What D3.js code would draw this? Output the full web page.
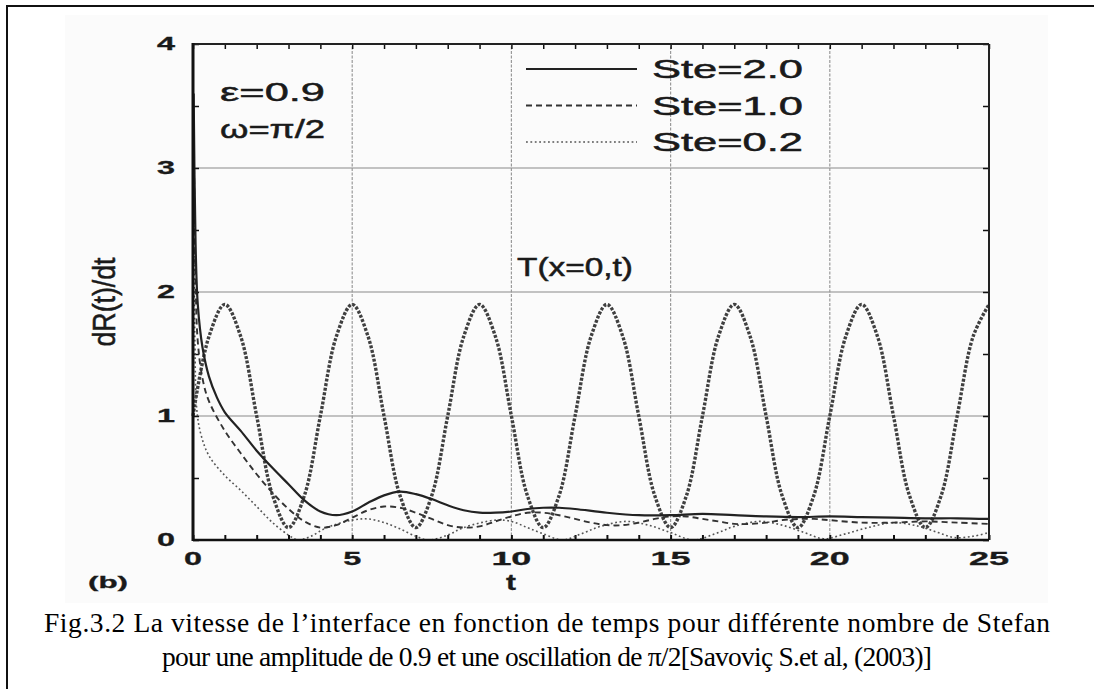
<!DOCTYPE html>
<html>
<head>
<meta charset="utf-8">
<script src="https://cdn.jsdelivr.net/npm/d3@7"></script>
<style>
  html, body { margin: 0; padding: 0; background: #fff; }
  svg { display: block; }
</style>
</head>
<body>
<svg id="chart" width="1094" height="689"></svg>
<script>
// ---------------- data ----------------
const xTicks = [0, 5, 10, 15, 20, 25];
const yTicks = [0, 1, 2, 3, 4];
const seriesNames = ["Ste=2.0", "Ste=1.0", "Ste=0.2"];

// boundary temperature T(x=0,t), sampled every 0.5 in t
const tempT = d3.range(0, 25.01, 0.5);
const tempV = [1.0, 1.64, 1.9, 1.64, 1.0, 0.36, 0.1, 0.36,
               1.0, 1.64, 1.9, 1.64, 1.0, 0.36, 0.1, 0.36,
               1.0, 1.64, 1.9, 1.64, 1.0, 0.36, 0.1, 0.36,
               1.0, 1.64, 1.9, 1.64, 1.0, 0.36, 0.1, 0.36,
               1.0, 1.64, 1.9, 1.64, 1.0, 0.36, 0.1, 0.36,
               1.0, 1.64, 1.9, 1.64, 1.0, 0.36, 0.1, 0.36,
               1.0, 1.64, 1.9];

const ste20T = [0.02, 0.08, 0.15, 0.3, 0.5, 0.75, 1, 1.5, 2, 2.5, 3, 3.5, 4, 4.5, 5, 5.5, 6, 6.5, 7, 7.5, 8, 8.5, 9, 9.5, 10, 10.5, 11, 11.5, 12, 13, 14, 15, 16, 17, 18, 19, 20, 21, 22, 23, 24, 25];
const ste20V = [3.6, 2.4, 1.9, 1.55, 1.32, 1.15, 1.03, 0.88, 0.72, 0.58, 0.45, 0.32, 0.23, 0.2, 0.23, 0.3, 0.36, 0.39, 0.37, 0.33, 0.28, 0.24, 0.22, 0.22, 0.23, 0.25, 0.26, 0.26, 0.25, 0.22, 0.2, 0.2, 0.21, 0.2, 0.19, 0.185, 0.19, 0.185, 0.18, 0.175, 0.175, 0.17];

const ste10T = [0.02, 0.08, 0.15, 0.3, 0.5, 1, 1.5, 2, 2.5, 3, 3.5, 4, 4.5, 5, 5.5, 6, 6.5, 7, 7.5, 8, 8.5, 9, 9.5, 10, 10.5, 11, 11.5, 12, 12.5, 13, 13.5, 14, 14.5, 15, 15.5, 16, 16.5, 17, 17.5, 18, 18.5, 19, 19.5, 20, 21, 22, 23, 24, 25];
const ste10V = [3.4, 2.1, 1.6, 1.3, 1.12, 0.88, 0.7, 0.53, 0.38, 0.25, 0.15, 0.1, 0.12, 0.18, 0.24, 0.27, 0.26, 0.22, 0.17, 0.12, 0.1, 0.11, 0.15, 0.19, 0.22, 0.22, 0.2, 0.17, 0.14, 0.12, 0.12, 0.14, 0.17, 0.19, 0.19, 0.17, 0.15, 0.13, 0.13, 0.14, 0.16, 0.17, 0.17, 0.16, 0.14, 0.14, 0.15, 0.14, 0.13];

const ste02T = [0.02, 0.06, 0.12, 0.25, 0.5, 1, 1.5, 2, 2.5, 3, 3.3, 3.7, 4.2, 5, 5.5, 6, 6.5, 7, 7.4, 8, 8.5, 9.5, 10, 10.5, 11, 11.6, 12.2, 12.8, 13.6, 14.3, 15, 15.7, 16.4, 17, 17.8, 18.5, 19.2, 19.8, 20.5, 21.2, 22, 22.8, 23.4, 23.9, 24.5, 25];
const ste02V = [3.0, 1.6, 1.05, 0.85, 0.68, 0.52, 0.4, 0.27, 0.14, 0.04, 0.0, 0.03, 0.1, 0.16, 0.17, 0.14, 0.09, 0.03, 0.0, 0.04, 0.1, 0.16, 0.15, 0.1, 0.05, 0.0, 0.05, 0.11, 0.15, 0.12, 0.06, 0.0, 0.05, 0.11, 0.15, 0.12, 0.06, 0.01, 0.05, 0.1, 0.14, 0.11, 0.06, 0.02, 0.03, 0.06];

// ---------------- drawing ----------------
const svg = d3.select("#chart");
const x = d3.scaleLinear().domain([0, 25]).range([193, 989]);
const y = d3.scaleLinear().domain([0, 4]).range([540, 44]);

// page frame and faint picture background
svg.append("rect").attr("x", 65).attr("y", 15).attr("width", 983).attr("height", 588)
  .attr("fill", "#fbfbfb");
svg.append("path").attr("d", "M7,689 V6 H1094").attr("fill", "none")
  .attr("stroke", "#111").attr("stroke-width", 2);

function stretchText(g, str, px, py, size, width, opts = {}) {
  const t = g.append("text")
    .attr("x", px).attr("y", py)
    .attr("font-family", opts.family || "'Liberation Sans', Arial, sans-serif")
    .attr("font-size", size)
    .attr("font-weight", opts.weight || "normal")
    .attr("fill", opts.fill || "#1a1a1a")
    .attr("stroke", opts.fill || "#1a1a1a")
    .attr("stroke-width", opts.sw || 0.5)
    .attr("text-anchor", opts.anchor || "middle")
    .attr("dominant-baseline", "central")
    .text(str);
  if (width) t.attr("textLength", width).attr("lengthAdjust", "spacingAndGlyphs");
  return t;
}

// grid
const grid = svg.append("g");
grid.selectAll("line.h").data([1, 2, 3]).join("line")
  .attr("x1", x(0)).attr("x2", x(25)).attr("y1", d => y(d)).attr("y2", d => y(d))
  .attr("stroke", "#8a8a8a").attr("stroke-width", 1.2);
grid.selectAll("line.v").data([5, 10, 15, 20]).join("line")
  .attr("y1", y(0)).attr("y2", y(4)).attr("x1", d => x(d)).attr("x2", d => x(d))
  .attr("stroke", "#9a9a9a").attr("stroke-width", 1.2).attr("stroke-dasharray", "3,1.5");

// minor ticks via axes (inner)
const minorX = d3.range(0, 26, 1);
const minorY = d3.range(0, 4.01, 0.5);
svg.append("g").attr("transform", `translate(0,${y(0)})`)
  .call(d3.axisBottom(x).tickValues(minorX).tickSize(-5).tickFormat(""))
  .call(g => g.select(".domain").remove())
  .call(g => g.selectAll("line").attr("stroke", "#111").attr("stroke-width", 2));
svg.append("g").attr("transform", `translate(0,${y(4)})`)
  .call(d3.axisTop(x).tickValues(minorX).tickSize(-5).tickFormat(""))
  .call(g => g.select(".domain").remove())
  .call(g => g.selectAll("line").attr("stroke", "#111").attr("stroke-width", 1.5));
svg.append("g").attr("transform", `translate(${x(0)},0)`)
  .call(d3.axisLeft(y).tickValues(minorY).tickSize(-6).tickFormat(""))
  .call(g => g.select(".domain").remove())
  .call(g => g.selectAll("line").attr("stroke", "#111").attr("stroke-width", 1.5));
svg.append("g").attr("transform", `translate(${x(25)},0)`)
  .call(d3.axisRight(y).tickValues(minorY).tickSize(-6).tickFormat(""))
  .call(g => g.select(".domain").remove())
  .call(g => g.selectAll("line").attr("stroke", "#111").attr("stroke-width", 1.5));

// curves
const line = d3.line().x(d => x(d[0])).y(d => y(d[1])).curve(d3.curveCatmullRom.alpha(0.5));
const curves = svg.append("g");
curves.append("path").datum(d3.zip(tempT, tempV)).attr("d", line)
  .attr("fill", "none").attr("stroke", "#404040").attr("stroke-width", 3.4)
  .attr("stroke-dasharray", "3,1.6");
curves.append("path").datum(d3.zip(ste02T, ste02V)).attr("d", line)
  .attr("fill", "none").attr("stroke", "#555").attr("stroke-width", 1.6)
  .attr("stroke-dasharray", "1.8,2.6");
curves.append("path").datum(d3.zip(ste10T, ste10V)).attr("d", line)
  .attr("fill", "none").attr("stroke", "#333").attr("stroke-width", 1.9)
  .attr("stroke-dasharray", "6,4");
curves.append("path").datum(d3.zip(ste20T, ste20V)).attr("d", line)
  .attr("fill", "none").attr("stroke", "#222").attr("stroke-width", 2.2);

// frame
const frame = svg.append("g");
frame.append("line").attr("x1", x(0)).attr("x2", x(25)).attr("y1", y(4)).attr("y2", y(4))
  .attr("stroke", "#222").attr("stroke-width", 2);
frame.append("line").attr("x1", x(25)).attr("x2", x(25)).attr("y1", y(4)).attr("y2", y(0))
  .attr("stroke", "#222").attr("stroke-width", 2);
frame.append("line").attr("x1", x(0)).attr("x2", x(25)).attr("y1", y(0)).attr("y2", y(0))
  .attr("stroke", "#111").attr("stroke-width", 2.4);
frame.append("line").attr("x1", x(0)).attr("x2", x(0)).attr("y1", y(4) - 1).attr("y2", y(0) + 1)
  .attr("stroke", "#111").attr("stroke-width", 3);

// tick labels
const labels = svg.append("g");
xTicks.forEach(v => {
  stretchText(labels, String(v), x(v), 559, 18, String(v).length > 1 ? 40 : 18, { weight: "bold", sw: 0.3 });
});
yTicks.forEach(v => {
  stretchText(labels, String(v), 166, y(v), 18, 18, { weight: "bold", sw: 0.3 });
});

// axis titles
stretchText(labels, "t", 511, 582, 22, 10, { weight: "bold", sw: 0.3 });
stretchText(labels, "(b)", 108, 582, 16, 40, { weight: "bold", sw: 0.3 });
labels.append("text")
  .attr("transform", "translate(105,302) scale(1.4,1) rotate(-90)")
  .attr("font-family", "'Liberation Sans', Arial, sans-serif")
  .attr("font-size", 22).attr("fill", "#1a1a1a")
  .attr("stroke", "#1a1a1a").attr("stroke-width", 0.4)
  .attr("text-anchor", "middle").attr("dominant-baseline", "central")
  .attr("textLength", 89).attr("lengthAdjust", "spacingAndGlyphs")
  .text("dR(t)/dt");

// annotations
stretchText(labels, "ε=0.9", 220, 92, 26, 105, { anchor: "start" });
stretchText(labels, "ω=π/2", 220, 129, 26, 105, { anchor: "start" });
stretchText(labels, "T(x=0,t)", 517, 267, 25, 116, { anchor: "start" });

// legend
const legend = svg.append("g");
const legendStyles = [
  { dash: null, w: 2.2, c: "#222" },
  { dash: "6,4", w: 1.9, c: "#333" },
  { dash: "1.8,2.6", w: 1.6, c: "#555" }
];
seriesNames.forEach((name, i) => {
  const ly = 69 + i * 36.5;
  legend.append("line").attr("x1", 526).attr("x2", 637).attr("y1", ly).attr("y2", ly)
    .attr("stroke", legendStyles[i].c).attr("stroke-width", legendStyles[i].w)
    .attr("stroke-dasharray", legendStyles[i].dash);
  stretchText(legend, name, 652, ly, 25, 151, { anchor: "start" });
});

// caption
const cap = svg.append("g").attr("font-family", "'Liberation Serif', 'Times New Roman', serif")
  .attr("font-size", 27.5).attr("fill", "#000").attr("text-anchor", "middle");
cap.append("text").attr("x", 547).attr("y", 632)
  .attr("textLength", 1006).attr("lengthAdjust", "spacing")
  .text("Fig.3.2 La vitesse de l’interface en fonction de temps pour différente nombre de Stefan");
cap.append("text").attr("x", 547).attr("y", 666)
  .attr("textLength", 770).attr("lengthAdjust", "spacing")
  .text("pour une amplitude de 0.9 et une oscillation de π/2[Savoviç S.et al, (2003)]");
</script>
</body>
</html>
